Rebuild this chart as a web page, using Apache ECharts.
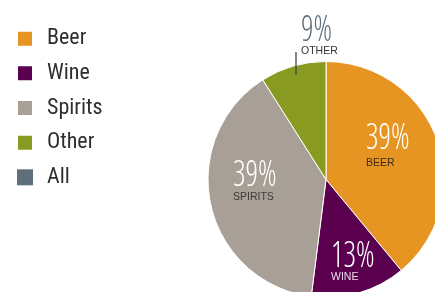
<!DOCTYPE html>
<html>
<head>
<meta charset="utf-8">
<script src="https://cdn.jsdelivr.net/npm/echarts@6/dist/echarts.min.js"></script>
<style>
html,body{margin:0;padding:0;background:#fff;}
#chart{width:435px;height:292px;}
</style>
</head>
<body>
<div id="chart"></div>
<script>
// Data
const categories = ['Beer', 'Wine', 'Spirits', 'Other'];
const shares = [39, 13, 39, 9];
const legendNames = ['Beer', 'Wine', 'Spirits', 'Other', 'All'];

// Styles
const colors = {Beer: '#E69522', Wine: '#5A004F', Spirits: '#A89F96', Other: '#889A1F', All: '#5E6F7A'};
const valueColors = ['#ffffff', '#ffffff', '#ffffff', '#5E7282'];
const nameColors = ['#3b2c1c', '#eadcea', '#3a3835', '#333333'];
// label anchors: [left x, value centre y, name centre y]
const labelPos = [[366, 139, 163.5], [331, 257, 276.7], [233, 175.5, 196.7], [301, 30.5, 51.3]];

const chart = echarts.init(document.getElementById('chart'), null, {renderer: 'canvas'});

const graphics = [];
categories.forEach((c, i) => {
  const p = labelPos[i];
  graphics.push({
    type: 'text', x: p[0], y: p[1], scaleX: 0.85, z: 100, silent: true,
    style: {text: shares[i] + '%', fill: valueColors[i], font: 'condensed 300 36px "Open Sans"', textAlign: 'left', textVerticalAlign: 'middle'}
  });
  graphics.push({
    type: 'text', x: p[0], y: p[2], z: 100, silent: true,
    style: {text: c.toUpperCase(), fill: nameColors[i], font: '10.5px "Liberation Sans", Arial, sans-serif', textAlign: 'left', textVerticalAlign: 'middle'}
  });
});
graphics.push({
  type: 'line', z: 100, silent: true,
  shape: {x1: 296, y1: 52, x2: 296, y2: 75},
  style: {stroke: '#444', lineWidth: 1.3}
});

chart.setOption({
  animation: false,
  legend: {
    orient: 'vertical', left: 16, top: 27.7, padding: 0,
    itemWidth: 16, itemHeight: 16, itemGap: 12.65,
    icon: 'rect',
    data: legendNames,
    selectedMode: false,
    textStyle: {fontFamily: '"Roboto Condensed", sans-serif', fontSize: 22, color: '#2e2e2e', padding: [0, 0, 0, 9]}
  },
  graphic: graphics,
  series: [
    {
      type: 'pie',
      center: [326, 179.5],
      radius: [0, 118],
      startAngle: 90,
      clockwise: true,
      silent: true,
      label: {show: false},
      labelLine: {show: false},
      itemStyle: {borderColor: '#fff', borderWidth: 1},
      data: categories.map((c, i) => ({name: c, value: shares[i], itemStyle: {color: colors[c]}}))
    },
    {
      type: 'pie',
      center: [326, 179.5],
      radius: [0, 0],
      silent: true,
      stillShowZeroSum: false,
      label: {show: false},
      data: [{name: 'All', value: 0, itemStyle: {color: colors.All}}]
    }
  ]
});
</script>
</body>
</html>
